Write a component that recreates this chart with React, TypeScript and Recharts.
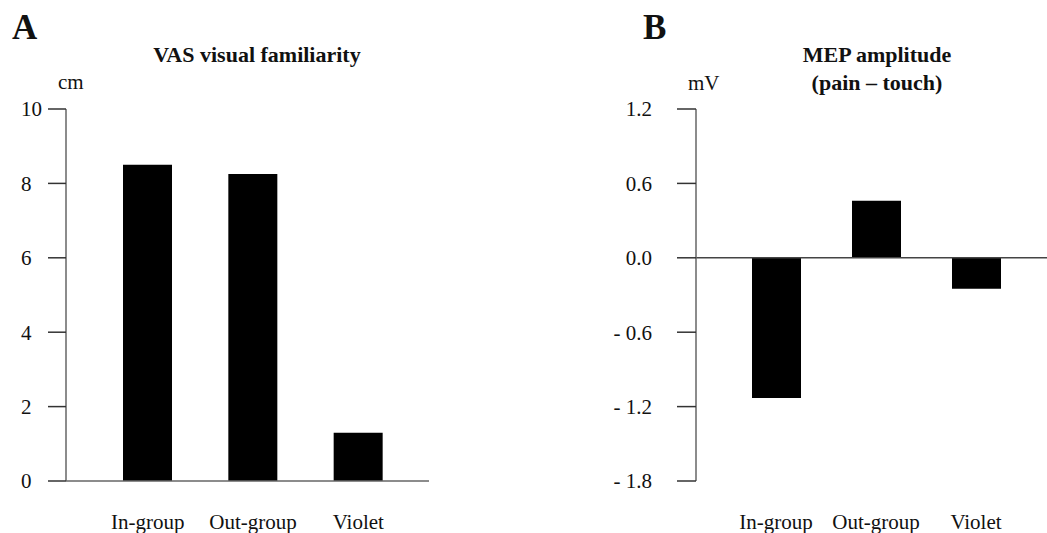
import { BarChart, Bar, XAxis, YAxis, ReferenceLine } from 'recharts';

const groups = ['In-group', 'Out-group', 'Violet'];
const vasFamiliarity = [8.5, 8.25, 1.3];
const mepDiff = [-1.13, 0.46, -0.25];
const vasTicks = [0, 2, 4, 6, 8, 10];
const mepTicks = [-1.8, -1.2, -0.6, 0, 0.6, 1.2];

const vasData = groups.map((g, i) => ({ group: g, value: vasFamiliarity[i] }));
const mepData = groups.map((g, i) => ({ group: g, value: mepDiff[i] }));

const serif = 'Liberation Serif, Times New Roman, Times, DejaVu Serif, serif';
const ink = '#111';
const axisStroke = { stroke: '#666', strokeWidth: 1.5 };
const tickStroke = { stroke: '#333', strokeWidth: 1.5 };
const textStyle = { fontFamily: serif };

function CategoryTick(props: any) {
  const { x, y, payload } = props;
  return (
    <text x={x} y={y + 48} textAnchor="middle" style={textStyle} fontSize={21} fill={ink}>
      {payload.value}
    </text>
  );
}

// panel A labels are flush left in the original
function LeftTick(props: any) {
  const { y, payload } = props;
  return (
    <text x={21} y={y} dy="0.355em" textAnchor="start" style={textStyle} fontSize={21} fill={ink}>
      {payload.value}
    </text>
  );
}

const fmtMep = (v: number) => (v < 0 ? `- ${Math.abs(v).toFixed(1)}` : Math.abs(v).toFixed(1));

export default function App() {
  return (
    <div style={{ position: 'absolute', left: 0, top: 0, width: 1047, height: 533, background: '#fff', fontFamily: serif }}>
      <div style={{ position: 'absolute', left: 0, top: 0 }}>
        <BarChart width={440} height={533} data={vasData} margin={{ top: 109, right: 11, bottom: 0, left: 0 }}>
          <XAxis
            dataKey="group"
            height={52}
            padding={{ left: 29, right: 18 }}
            tickLine={false}
            tickSize={0}
            tickMargin={0}
            axisLine={axisStroke}
            tick={<CategoryTick />}
            interval={0}
          />
          <YAxis
            width={66}
            domain={[0, 10]}
            ticks={vasTicks}
            tickSize={18}
            tickLine={tickStroke}
            axisLine={axisStroke}
            tick={<LeftTick />}
            interval={0}
          />
          <Bar dataKey="value" fill="#000" barSize={49} isAnimationActive={false} />
        </BarChart>
      </div>
      <div style={{ position: 'absolute', left: 600, top: 0 }}>
        <BarChart width={447} height={533} data={mepData} margin={{ top: 109, right: 0, bottom: 0, left: 0 }}>
          <XAxis
            dataKey="group"
            height={52}
            padding={{ left: 30, right: 21 }}
            tickLine={false}
            tickSize={0}
            tickMargin={0}
            axisLine={false}
            tick={<CategoryTick />}
            interval={0}
          />
          <YAxis
            width={96}
            domain={[-1.8, 1.2]}
            ticks={mepTicks}
            tickSize={19}
            tickMargin={25}
            tickLine={tickStroke}
            axisLine={axisStroke}
            tickFormatter={fmtMep}
            tick={{ style: textStyle, fontSize: 21, fill: ink }}
            interval={0}
          />
          <ReferenceLine y={0} stroke="#444" strokeWidth={1.5} />
          <Bar dataKey="value" fill="#000" barSize={49} isAnimationActive={false} />
        </BarChart>
      </div>
      <svg
        width={1047}
        height={533}
        style={{ position: 'absolute', left: 0, top: 0, pointerEvents: 'none', fontFamily: serif }}
        fill={ink}
      >
        <text x={12} y={39} fontSize={35} fontWeight="bold">A</text>
        <text x={257} y={62} fontSize={22} fontWeight="bold" textAnchor="middle">VAS visual familiarity</text>
        <text x={58} y={89} fontSize={21}>cm</text>
        <text x={643} y={39} fontSize={35} fontWeight="bold">B</text>
        <text x={877} y={62} fontSize={22} fontWeight="bold" textAnchor="middle">MEP amplitude</text>
        <text x={877} y={90} fontSize={22} fontWeight="bold" textAnchor="middle">(pain – touch)</text>
        <text x={688} y={90} fontSize={21}>mV</text>
      </svg>
    </div>
  );
}
